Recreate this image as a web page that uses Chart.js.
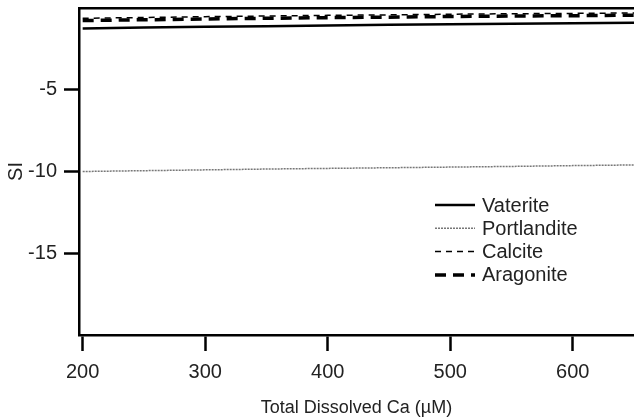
<!DOCTYPE html>
<html>
<head>
<meta charset="utf-8">
<script src="https://cdn.jsdelivr.net/npm/chart.js@4"></script>
<style>
  body { margin: 0; background: #fff; }
  #wrap { width: 634px; height: 419px; }
</style>
</head>
<body>
<div id="wrap"><canvas id="chart_si"></canvas></div>
<script>
// total dissolved Ca (µM)
var caValues = [200, 250, 300, 350, 400, 450, 500, 550, 600, 650];

// saturation indices
var vaterite    = [-1.25, -1.20, -1.15, -1.11, -1.07, -1.03, -1.00, -0.96, -0.93, -0.90];
var portlandite = [-10.00, -9.95, -9.90, -9.85, -9.81, -9.77, -9.73, -9.69, -9.64, -9.60];
var calcite     = [-0.63, -0.58, -0.53, -0.49, -0.45, -0.42, -0.38, -0.35, -0.33, -0.30];
var aragonite   = [-0.77, -0.72, -0.67, -0.63, -0.59, -0.56, -0.52, -0.49, -0.47, -0.44];

var xTicks = [200, 300, 400, 500, 600];
var yTicks = [-15, -10, -5];

var fontFamily = '"Liberation Sans", Arial, sans-serif';

function toPoints(values) {
    return values.map(function (y, i) { return {x: caValues[i], y: y}; });
}

// legend drawn inside the plot area, like the original figure
var innerLegend = {
    id: 'innerLegend',
    afterDraw: function (chart) {
        var ctx = chart.ctx;
        var area = chart.chartArea;
        var x0 = area.left + 356;
        var y0 = area.top + 197;
        ctx.save();
        chart.data.datasets.forEach(function (ds, i) {
            var y = y0 + i * 23.3;
            ctx.beginPath();
            ctx.strokeStyle = ds.borderColor;
            ctx.lineWidth = ds.borderWidth;
            ctx.setLineDash(ds.borderDash || []);
            ctx.moveTo(x0, y);
            ctx.lineTo(x0 + 40, y);
            ctx.stroke();
            ctx.setLineDash([]);
            ctx.fillStyle = '#222';
            ctx.font = '20px ' + fontFamily;
            ctx.textBaseline = 'middle';
            ctx.fillText(ds.label, x0 + 47, y + 1);
        });
        ctx.restore();
    }
};

var item = document.getElementById('chart_si');
var myChart = new Chart(item, {
    type: 'line',
    data: {
        datasets: [{
            label: 'Vaterite',
            data: toPoints(vaterite),
            borderColor: '#000',
            borderWidth: 2.5,
            pointRadius: 0
        }, {
            label: 'Portlandite',
            data: toPoints(portlandite),
            borderColor: '#777',
            borderWidth: 1.5,
            borderDash: [2, 1],
            pointRadius: 0
        }, {
            label: 'Calcite',
            data: toPoints(calcite),
            borderColor: '#000',
            borderWidth: 1.5,
            borderDash: [6, 5],
            pointRadius: 0
        }, {
            label: 'Aragonite',
            data: toPoints(aragonite),
            borderColor: '#000',
            borderWidth: 3.5,
            borderDash: [11, 7],
            pointRadius: 0
        }]
    },
    plugins: [innerLegend],
    options: {
        responsive: true,
        maintainAspectRatio: false,
        animation: false,
        layout: {
            padding: {top: 8, right: 0, bottom: 0, left: 0}
        },
        scales: {
            x: {
                type: 'linear',
                position: 'bottom',
                min: 197,
                max: 650,
                afterBuildTicks: function (scale) {
                    scale.ticks = xTicks.map(function (v) { return {value: v}; });
                },
                afterFit: function (scale) {
                    scale.height = 84;
                    scale.paddingLeft = 0;
                    scale.paddingRight = 0;
                },
                border: {display: true, color: '#000', width: 2.5},
                grid: {
                    drawOnChartArea: false,
                    drawTicks: true,
                    tickLength: 16,
                    tickWidth: 2.5,
                    tickColor: '#000'
                },
                ticks: {
                    padding: 9,
                    color: '#222',
                    font: {family: fontFamily, size: 20},
                    maxRotation: 0
                },
                title: {
                    display: true,
                    text: 'Total Dissolved Ca (µM)',
                    color: '#222',
                    font: {family: fontFamily, size: 18},
                    padding: {top: 4, bottom: 0}
                }
            },
            x2: {
                type: 'linear',
                position: 'top',
                min: 197,
                max: 650,
                afterFit: function (scale) {
                    scale.height = 0;
                    scale.paddingLeft = 0;
                    scale.paddingRight = 0;
                },
                border: {display: true, color: '#000', width: 2.5},
                grid: {display: false, drawTicks: false},
                ticks: {display: false}
            },
            y: {
                min: -20,
                max: 0,
                afterBuildTicks: function (scale) {
                    scale.ticks = yTicks.map(function (v) { return {value: v}; });
                },
                afterFit: function (scale) {
                    scale.width = 79;
                    scale.paddingTop = 0;
                    scale.paddingBottom = 0;
                },
                border: {display: true, color: '#000', width: 2.5},
                grid: {
                    drawOnChartArea: false,
                    drawTicks: true,
                    tickLength: 15,
                    tickWidth: 2.5,
                    tickColor: '#000'
                },
                ticks: {
                    padding: 7,
                    color: '#222',
                    font: {family: fontFamily, size: 20}
                },
                title: {
                    display: true,
                    text: 'SI',
                    color: '#222',
                    font: {family: fontFamily, size: 20},
                    padding: {top: 4, bottom: 4}
                }
            }
        },
        plugins: {
            legend: {display: false},
            tooltip: {enabled: false}
        }
    }
});
</script>
</body>
</html>
